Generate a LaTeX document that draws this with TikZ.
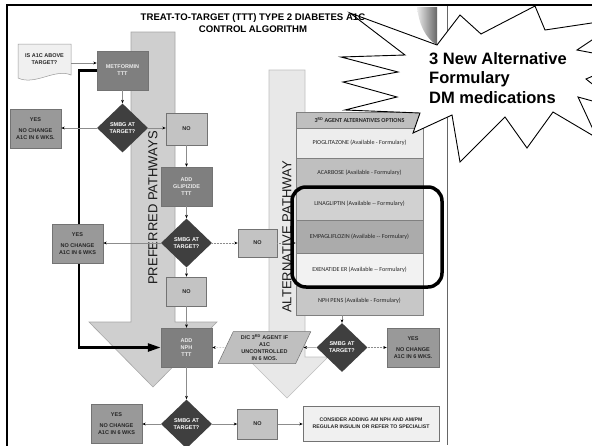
\documentclass[tikz,border=0pt]{standalone}
\usepackage{fontspec}
\setmainfont{Liberation Sans}
\newfontfamily\tablefont{Carlito}
\usepackage{xcolor}
\usepackage{tikz}
\usetikzlibrary{backgrounds}
\usetikzlibrary{shapes.geometric}
\usetikzlibrary{arrows.meta}

\definecolor{tttgray}{HTML}{7F7F7F}
\definecolor{yesgray}{HTML}{999999}
\definecolor{nogray}{HTML}{C3C3C3}
\definecolor{checkgray}{HTML}{3F3F3F}
\definecolor{prefgray}{HTML}{CFCFCF}
\definecolor{altgray}{HTML}{E8E8E8}

\begin{document}
\begin{tikzpicture}[x=1pt, y=-1pt,
	box/.style={rectangle, draw=black!55, line width=0.5pt, inner sep=0pt, align=center, font=\fontsize{5.5}{7}\selectfont\bfseries},
	tttbox/.style={box, fill=tttgray, text=white!92!black, minimum width=51, minimum height=39},
	yesbox/.style={box, fill=yesgray, text=black!85, minimum width=51, minimum height=39},
	nobox/.style={box, fill=nogray, text=black!85, minimum width=40, minimum height=30},
	check/.style={diamond, fill=checkgray, text=white, inner sep=0pt, minimum width=51, minimum height=49, align=center, font=\fontsize{5.5}{7}\selectfont\bfseries},
	row/.style={rectangle, draw=black!50, line width=0.5pt, minimum width=127, inner sep=0pt, text=black!85, font=\tablefont\fontsize{6.1}{7}\selectfont},
	conn/.style={draw=black!45, line width=0.5pt, -{Stealth[length=3.5pt, width=2.8pt, color=black]}},
	dotconn/.style={conn, densely dotted},
	mainflow/.style={line width=2.6pt, -{Triangle[length=13pt, width=8pt]}},
	lane/.style={draw=black!35, line width=0.6pt},
	lanelabel/.style={rotate=90, text=black!90, font=\fontsize{13}{13}\selectfont}]
	\useasboundingbox (0,0) rectangle (592,445);
	\clip (0,0) rectangle (592,445);

	\node[box, draw=none, text=black!85, minimum width=53, minimum height=30](ask) at (44.5,59){IS A1C ABOVE\\TARGET?};
	\node[tttbox](metformin) at (122.5,70.5){METFORMIN\\TTT};
	\node[check](d1) at (122.5,128){SMBG AT\\TARGET?};
	\node[yesbox](yes1) at (35.5,128.5){YES\\[4pt]NO CHANGE\\A1C IN 6 WKS.};
	\node[nobox, minimum width=41, minimum height=32](no1) at (186.5,129){NO};
	\node[tttbox](glip) at (186.5,186.5){ADD\\GLIPIZIDE\\TTT};
	\node[check](d2) at (186.5,243){SMBG AT\\TARGET?};
	\node[yesbox](yes2) at (77.5,243.5){YES\\[4pt]NO CHANGE\\A1C IN 6 WKS};
	\node[nobox, minimum width=39, minimum height=28](no2) at (257.5,243){NO};
	\node[nobox, minimum height=29](no3) at (186.5,291.5){NO};
	\node[tttbox](nph) at (186.5,347.5){ADD\\NPH\\TTT};
	\node[box, trapezium, trapezium left angle=66, trapezium right angle=114, trapezium stretches=true, fill=black!25, text=black!85, minimum width=93, minimum height=32](dc) at (264.5,347.5){D/C 3\textsuperscript{RD} AGENT IF\\A1C\\UNCONTROLLED\\IN 6 MOS.};
	\node[check](d3) at (342,347.5){SMBG AT\\TARGET?};
	\node[yesbox, minimum width=52](yes3) at (413,347.5){YES\\[4pt]NO CHANGE\\A1C IN 6 WKS.};
	\node[check](d4) at (186.5,424){SMBG AT\\TARGET?};
	\node[yesbox](yes4) at (116.5,423.5){YES\\[4pt]NO CHANGE\\A1C IN 6 WKS};
	\node[nobox](no4) at (257.5,424){NO};
	\node[box, fill=black!6, text=black!85, minimum width=136, minimum height=35, font=\fontsize{5.2}{7}\selectfont\bfseries](consider) at (371,423.5){CONSIDER ADDING AM NPH AND AM/PM\\REGULAR INSULIN OR REFER TO SPECIALIST};

	\node[row, fill=black!25, minimum height=16, font=\tablefont\bfseries\fontsize{6.1}{7}\selectfont](header) at (359.5,120){3\textsuperscript{RD} AGENT ALTERNATIVES OPTIONS};
	\node[row, fill=black!7, minimum height=30](pio) at (359.5,143){PIOGLITAZONE (Available - Formulary)};
	\node[row, fill=black!25, minimum height=29](acarb) at (359.5,172.5){ACARBOSE (Available - Formulary)};
	\node[row, fill=black!18, minimum height=33](lina) at (359.5,203.5){LINAGLIPTIN (Available -- Formulary)};
	\node[row, fill=black!33, minimum height=33](empa) at (359.5,236.5){EMPAGLIFLOZIN (Available -- Formulary)};
	\node[row, fill=black!5, minimum height=33](exen) at (359.5,269.5){EXENATIDE ER (Available -- Formulary)};
	\node[row, fill=black!22, minimum height=29](nphpens) at (359.5,300.5){NPH PENS (Available - Formulary)};

	\begin{pgfonlayer}{background}
		\fill[white] (0,0) rectangle (592,445);
		\draw[lane, fill=prefgray] (131,32) -- (175,32) -- (175,322) -- (217,322) -- (153,387) -- (89,322) -- (131,322) -- cycle;
		\node[lanelabel](preflabel) at (153,208){PREFERRED PATHWAYS};
		\draw[lane, draw=black!25, fill=altgray] (269,70) -- (305,70) -- (305,357) -- (328,357) -- (287,398) -- (246,357) -- (269,357) -- cycle;
		\node[lanelabel](altlabel) at (287,237){ALTERNATIVE PATHWAY};
		\draw[draw=black!40, fill=black!6, line width=0.5pt] (18,44) -- (71,44) -- (71,75) .. controls (55,68) and (35,86) .. (18,78) -- cycle;
		\coordinate(bendtop) at (79,70.5);
		\coordinate(bendlow) at (79,347.5);
		\draw[mainflow] (metformin.west) -- (bendtop) -- (bendlow) -- (nph.west);
	\end{pgfonlayer}

	\draw[conn] ([yshift=-4pt]ask.east) -- ([yshift=-4pt]ask.east -| metformin.west);
	\draw[conn] (metformin) -- (d1);
	\draw[conn] (d1.west) -- (d1.west -| yes1.east);
	\draw[conn] (d1.east) -- (d1.east -| no1.west);
	\draw[conn] (no1) -- (glip);
	\draw[conn] (glip) -- (d2);
	\draw[conn] (d2.west) -- (d2.west -| yes2.east);
	\draw[dotconn] (d2.east) -- (d2.east -| no2.west);
	\draw[dotconn] (no2.east) -- (no2.east -| empa.west);
	\draw[conn] (d2) -- (no3);
	\draw[conn] (no3) -- (nph);
	\draw[conn] (nph) -- (d4);
	\draw[conn] (d4.west) -- (d4.west -| yes4.east);
	\draw[conn] (d4.east) -- (d4.east -| no4.west);
	\draw[conn] (no4.east) -- (no4.east -| consider.west);
	\draw[conn] (nphpens.south -| d3.north) -- (d3.north);
	\draw[conn] (d3.west) -- (dc.east);
	\draw[dotconn] (dc.west) -- (nph.east);
	\draw[dotconn] (d3.east) -- (yes3.west);

	\draw[line width=3.5pt, rounded corners=14pt] (292,187) rectangle (442,287);
	\draw[black!60, line width=0.8pt] (447,5) -- (447,445);
	\shade[left color=black!8, right color=black!60] (417,7) .. controls (419,24) and (425,38) .. (437,45) -- (437,7) -- cycle;

	\draw[fill=white, line width=0.9pt] (350,13) -- (437,45) -- (460,15) -- (481,34) -- (535,6) -- (545,30) -- (625,18) -- (577,50) -- (630,60) -- (586,79) -- (625,110) -- (578,97) -- (597,138) -- (553,112) -- (527,148) -- (505,117) -- (460,162) -- (452,115) -- (413,133) -- (420,113) -- (345,110) -- (397,97) -- (343,82) -- (398,72) -- (341,57) -- (405,55) -- cycle;
	\node[font=\fontsize{16.5}{19.5}\selectfont\bfseries, align=left](callout) at (498,78){3 New Alternative\\Formulary\\DM medications};

	\node[font=\fontsize{9.6}{12}\selectfont\bfseries, align=center](title) at (253,23){TREAT-TO-TARGET (TTT) TYPE 2 DIABETES A1C\\CONTROL ALGORITHM};
	\draw[line width=2pt] (7,446) -- (7,5) -- (592,5);
\end{tikzpicture}
\end{document}
